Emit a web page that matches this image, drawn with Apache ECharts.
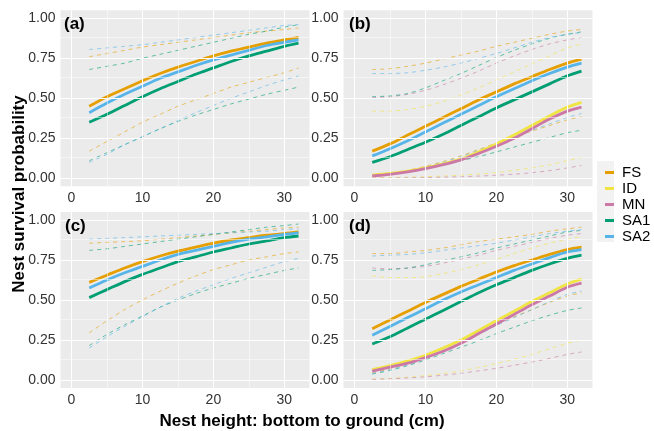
<!DOCTYPE html>
<html>
<head>
<meta charset="utf-8">
<script src="https://cdn.jsdelivr.net/npm/echarts@6/dist/echarts.min.js"></script>
<style>
  html, body { margin: 0; padding: 0; background: #fff; }
  #chart { width: 654px; height: 431px; }
</style>
</head>
<body>
<div id="chart"></div>
<script>
// nest height (cm) at which the fitted curves were read
const heights = [2.5, 5, 7.5, 10, 12.5, 15, 17.5, 20, 22.5, 25, 27.5, 30, 32]

// panel (a)
const aFS = [0.45, 0.51, 0.56, 0.61, 0.655, 0.695, 0.73, 0.765, 0.795, 0.82, 0.845, 0.865, 0.88]
const aFS_lo = [0.17, 0.23, 0.29, 0.35, 0.40, 0.45, 0.49, 0.53, 0.57, 0.60, 0.63, 0.66, 0.69]
const aFS_hi = [0.76, 0.78, 0.80, 0.82, 0.835, 0.85, 0.865, 0.88, 0.895, 0.91, 0.92, 0.93, 0.94]
const aSA1 = [0.35, 0.40, 0.455, 0.51, 0.56, 0.605, 0.65, 0.69, 0.73, 0.765, 0.795, 0.825, 0.845]
const aSA1_lo = [0.11, 0.16, 0.21, 0.26, 0.31, 0.355, 0.395, 0.43, 0.465, 0.495, 0.525, 0.55, 0.57]
const aSA1_hi = [0.68, 0.70, 0.72, 0.75, 0.775, 0.80, 0.825, 0.85, 0.875, 0.90, 0.92, 0.945, 0.96]
const aSA2 = [0.41, 0.47, 0.525, 0.575, 0.625, 0.665, 0.705, 0.74, 0.77, 0.80, 0.83, 0.85, 0.865]
const aSA2_lo = [0.10, 0.15, 0.21, 0.26, 0.31, 0.36, 0.41, 0.455, 0.50, 0.54, 0.58, 0.615, 0.64]
const aSA2_hi = [0.805, 0.815, 0.825, 0.835, 0.85, 0.865, 0.88, 0.895, 0.91, 0.925, 0.94, 0.955, 0.96]

// panel (b)
const bFS = [0.17, 0.215, 0.27, 0.325, 0.38, 0.435, 0.49, 0.54, 0.59, 0.635, 0.68, 0.72, 0.745]
const bFS_lo = [0.02, 0.03, 0.05, 0.075, 0.105, 0.14, 0.18, 0.22, 0.26, 0.295, 0.33, 0.365, 0.385]
const bFS_hi = [0.68, 0.685, 0.70, 0.72, 0.745, 0.77, 0.795, 0.825, 0.85, 0.875, 0.90, 0.92, 0.93]
const bID = [0.02, 0.03, 0.045, 0.065, 0.09, 0.12, 0.165, 0.215, 0.27, 0.33, 0.39, 0.445, 0.475]
const bID_lo = [0.003, 0.005, 0.007, 0.01, 0.014, 0.02, 0.027, 0.036, 0.05, 0.065, 0.085, 0.11, 0.13]
const bID_hi = [0.42, 0.42, 0.43, 0.45, 0.48, 0.52, 0.565, 0.615, 0.665, 0.715, 0.765, 0.815, 0.84]
const bMN = [0.015, 0.025, 0.04, 0.06, 0.085, 0.115, 0.155, 0.20, 0.25, 0.31, 0.37, 0.42, 0.445]
const bMN_lo = [0.001, 0.002, 0.003, 0.005, 0.007, 0.01, 0.014, 0.019, 0.026, 0.035, 0.048, 0.065, 0.08]
const bMN_hi = [0.505, 0.51, 0.525, 0.55, 0.585, 0.625, 0.67, 0.72, 0.765, 0.805, 0.84, 0.865, 0.88]
const bSA1 = [0.10, 0.135, 0.18, 0.225, 0.275, 0.33, 0.385, 0.44, 0.49, 0.54, 0.59, 0.64, 0.67]
const bSA1_lo = [0.02, 0.03, 0.045, 0.065, 0.085, 0.11, 0.135, 0.165, 0.195, 0.225, 0.255, 0.285, 0.30]
const bSA1_hi = [0.51, 0.515, 0.53, 0.565, 0.61, 0.655, 0.705, 0.755, 0.80, 0.84, 0.875, 0.90, 0.915]
const bSA2 = [0.14, 0.185, 0.235, 0.29, 0.345, 0.40, 0.455, 0.51, 0.56, 0.61, 0.655, 0.695, 0.72]
const bSA2_lo = [0.015, 0.03, 0.045, 0.07, 0.10, 0.135, 0.175, 0.215, 0.26, 0.30, 0.34, 0.38, 0.405]
const bSA2_hi = [0.655, 0.655, 0.66, 0.675, 0.695, 0.72, 0.75, 0.78, 0.815, 0.85, 0.88, 0.90, 0.91]

// panel (c)
const cFS = [0.61, 0.655, 0.70, 0.74, 0.775, 0.805, 0.83, 0.855, 0.875, 0.89, 0.905, 0.915, 0.925]
const cFS_lo = [0.295, 0.37, 0.44, 0.50, 0.555, 0.605, 0.65, 0.69, 0.72, 0.75, 0.77, 0.79, 0.80]
const cFS_hi = [0.855, 0.86, 0.865, 0.87, 0.88, 0.89, 0.90, 0.91, 0.92, 0.93, 0.94, 0.95, 0.955]
const cSA1 = [0.515, 0.565, 0.615, 0.66, 0.70, 0.74, 0.77, 0.80, 0.825, 0.85, 0.87, 0.89, 0.90]
const cSA1_lo = [0.215, 0.285, 0.345, 0.40, 0.455, 0.50, 0.54, 0.575, 0.605, 0.635, 0.66, 0.685, 0.70]
const cSA1_hi = [0.81, 0.82, 0.835, 0.85, 0.865, 0.88, 0.895, 0.91, 0.925, 0.94, 0.955, 0.965, 0.975]
const cSA2 = [0.575, 0.625, 0.67, 0.71, 0.75, 0.785, 0.81, 0.835, 0.86, 0.88, 0.895, 0.91, 0.92]
const cSA2_lo = [0.20, 0.27, 0.335, 0.395, 0.455, 0.51, 0.555, 0.595, 0.635, 0.67, 0.705, 0.74, 0.76]
const cSA2_hi = [0.88, 0.885, 0.89, 0.895, 0.90, 0.905, 0.91, 0.915, 0.92, 0.925, 0.93, 0.94, 0.945]

// panel (d)
const dFS = [0.32, 0.375, 0.43, 0.485, 0.535, 0.585, 0.63, 0.675, 0.715, 0.75, 0.785, 0.815, 0.83]
const dFS_lo = [0.045, 0.07, 0.10, 0.14, 0.185, 0.235, 0.29, 0.345, 0.395, 0.44, 0.485, 0.525, 0.545]
const dFS_hi = [0.79, 0.79, 0.80, 0.81, 0.825, 0.845, 0.865, 0.88, 0.895, 0.91, 0.93, 0.945, 0.955]
const dID = [0.065, 0.09, 0.12, 0.155, 0.20, 0.25, 0.31, 0.37, 0.43, 0.49, 0.545, 0.60, 0.63]
const dID_lo = [0.005, 0.01, 0.017, 0.027, 0.04, 0.057, 0.078, 0.103, 0.13, 0.16, 0.195, 0.23, 0.25]
const dID_hi = [0.65, 0.64, 0.64, 0.645, 0.665, 0.69, 0.72, 0.755, 0.79, 0.825, 0.855, 0.88, 0.895]
const dMN = [0.055, 0.08, 0.105, 0.14, 0.18, 0.23, 0.29, 0.35, 0.41, 0.47, 0.525, 0.58, 0.605]
const dMN_lo = [0.004, 0.008, 0.013, 0.02, 0.03, 0.042, 0.057, 0.073, 0.092, 0.112, 0.135, 0.16, 0.175]
const dMN_hi = [0.70, 0.695, 0.70, 0.71, 0.73, 0.755, 0.78, 0.81, 0.835, 0.86, 0.885, 0.905, 0.915]
const dSA1 = [0.225, 0.27, 0.325, 0.38, 0.435, 0.49, 0.545, 0.595, 0.64, 0.685, 0.725, 0.76, 0.78]
const dSA1_lo = [0.037, 0.06, 0.09, 0.125, 0.165, 0.205, 0.245, 0.29, 0.33, 0.37, 0.405, 0.435, 0.45]
const dSA1_hi = [0.685, 0.69, 0.70, 0.72, 0.745, 0.77, 0.795, 0.825, 0.85, 0.875, 0.90, 0.925, 0.935]
const dSA2 = [0.28, 0.335, 0.39, 0.445, 0.50, 0.55, 0.595, 0.64, 0.685, 0.725, 0.765, 0.80, 0.815]
const dSA2_lo = [0.04, 0.065, 0.095, 0.135, 0.18, 0.23, 0.285, 0.34, 0.39, 0.44, 0.49, 0.535, 0.555]
const dSA2_hi = [0.775, 0.78, 0.785, 0.795, 0.81, 0.825, 0.84, 0.855, 0.875, 0.895, 0.915, 0.93, 0.94]

const groups = ['FS', 'ID', 'MN', 'SA1', 'SA2']
const colors = { FS: '#E69F00', ID: '#F0E442', MN: '#CC79A7', SA1: '#009E73', SA2: '#56B4E9' }
const panelLabels = ['(a)', '(b)', '(c)', '(d)']
const xMajor = [0, 10, 20, 30]
const xMinor = [5, 15, 25]
const yMajor = [0, 0.25, 0.5, 0.75, 1]
const yMinor = [0.125, 0.375, 0.625, 0.875]

// one entry per facet: { group: [fit, lower, upper] }
const panels = [
  { FS: [aFS, aFS_lo, aFS_hi], SA1: [aSA1, aSA1_lo, aSA1_hi], SA2: [aSA2, aSA2_lo, aSA2_hi] },
  { FS: [bFS, bFS_lo, bFS_hi], ID: [bID, bID_lo, bID_hi], MN: [bMN, bMN_lo, bMN_hi], SA1: [bSA1, bSA1_lo, bSA1_hi], SA2: [bSA2, bSA2_lo, bSA2_hi] },
  { FS: [cFS, cFS_lo, cFS_hi], SA1: [cSA1, cSA1_lo, cSA1_hi], SA2: [cSA2, cSA2_lo, cSA2_hi] },
  { FS: [dFS, dFS_lo, dFS_hi], ID: [dID, dID_lo, dID_hi], MN: [dMN, dMN_lo, dMN_hi], SA1: [dSA1, dSA1_lo, dSA1_hi], SA2: [dSA2, dSA2_lo, dSA2_hi] }
]

const FONT = '"Liberation Sans", Arial, sans-serif'
const gridBoxes = [
  { left: 60.5, top: 10.3 },
  { left: 343.5, top: 10.3 },
  { left: 60.5, top: 212 },
  { left: 343.5, top: 212 }
]
const labelPos = [[64, 16], [349, 16], [65, 218], [349, 218]]

const toPoints = arr => heights.map((h, k) => [h, arr[k]])

const grids = gridBoxes.map(g => ({
  left: g.left, top: g.top, width: 249, height: 176,
  show: true, backgroundColor: '#EBEBEB', borderWidth: 0
}))

const xAxes = gridBoxes.map((g, i) => ({
  type: 'value', gridIndex: i, min: -1.55, max: 33.55,
  axisLine: { show: false },
  splitLine: { show: false },
  axisTick: { show: true, length: 3, customValues: xMajor, lineStyle: { color: '#333' } },
  axisLabel: { customValues: xMajor, fontSize: 14, color: '#333', fontFamily: FONT, margin: 5 }
}))

const yAxes = gridBoxes.map((g, i) => ({
  type: 'value', gridIndex: i, min: -0.05, max: 1.05,
  axisLine: { show: false },
  splitLine: { show: false },
  axisTick: { show: true, length: 3, customValues: yMajor, lineStyle: { color: '#333' } },
  axisLabel: { customValues: yMajor, fontSize: 14, color: '#333', fontFamily: FONT, margin: 5,
    formatter: v => v.toFixed(2) }
}))

const series = []

// white panel grid (ggplot style), drawn as mark lines behind the curves
panels.forEach((p, i) => {
  const lines = []
  xMajor.forEach(v => lines.push({ xAxis: v, lineStyle: { width: 1.1 } }))
  xMinor.forEach(v => lines.push({ xAxis: v, lineStyle: { width: 0.5 } }))
  yMajor.forEach(v => lines.push({ yAxis: v, lineStyle: { width: 1.1 } }))
  yMinor.forEach(v => lines.push({ yAxis: v, lineStyle: { width: 0.5 } }))
  series.push({
    type: 'line', name: 'grid' + i, xAxisIndex: i, yAxisIndex: i, data: [], z: 1,
    silent: true,
    markLine: {
      silent: true, symbol: ['none', 'none'], label: { show: false },
      lineStyle: { color: '#fff', type: 'solid' },
      data: lines
    }
  })
})

// dashed confidence limits
panels.forEach((p, i) => {
  groups.forEach(gname => {
    if (!p[gname]) return
    const [, lo, hi] = p[gname]
    ;[lo, hi].forEach((arr, j) => {
      series.push({
        type: 'line', name: gname + (j ? ' upper' : ' lower'), xAxisIndex: i, yAxisIndex: i,
        data: toPoints(arr), showSymbol: false, smooth: 0.3, z: 2,
        itemStyle: { color: colors[gname] },
        lineStyle: { color: colors[gname], width: 1, type: [4, 4], opacity: 0.6 }
      })
    })
  })
})

// fitted survival curves
panels.forEach((p, i) => {
  groups.forEach(gname => {
    if (!p[gname]) return
    series.push({
      type: 'line', name: gname, xAxisIndex: i, yAxisIndex: i,
      data: toPoints(p[gname][0]), showSymbol: false, smooth: 0.3, z: 3,
      itemStyle: { color: colors[gname] },
      lineStyle: { color: colors[gname], width: 2.8 }
    })
  })
})

const boldText = { fontFamily: FONT, fontWeight: 'bold', fontSize: 17, fill: '#000' }
const graphics = [
  { type: 'rect', shape: { x: 597, y: 161, width: 17, height: 81 }, style: { fill: '#F2F2F2' }, z: 0 },
  { type: 'text', x: 19, y: 194, rotation: Math.PI / 2,
    style: Object.assign({ text: 'Nest survival probability', align: 'center', verticalAlign: 'middle' }, boldText) },
  { type: 'text', x: 302, y: 421,
    style: Object.assign({ text: 'Nest height: bottom to ground (cm)', align: 'center', verticalAlign: 'middle' }, boldText) }
]
panelLabels.forEach((t, i) => {
  graphics.push({ type: 'text', x: labelPos[i][0], y: labelPos[i][1], z: 10,
    style: Object.assign({ text: t, verticalAlign: 'top' }, boldText) })
})

const chart = echarts.init(document.getElementById('chart'))
chart.setOption({
  animation: false,
  grid: grids,
  xAxis: xAxes,
  yAxis: yAxes,
  legend: {
    data: groups, orient: 'vertical', left: 600, top: 160, z: 5,
    icon: 'rect', itemWidth: 9, itemHeight: 3, itemGap: 1,
    textStyle: { fontSize: 15, color: '#000', fontFamily: FONT, lineHeight: 15, padding: [0, 0, 0, 3] }
  },
  graphic: graphics,
  series: series
})
</script>
</body>
</html>
